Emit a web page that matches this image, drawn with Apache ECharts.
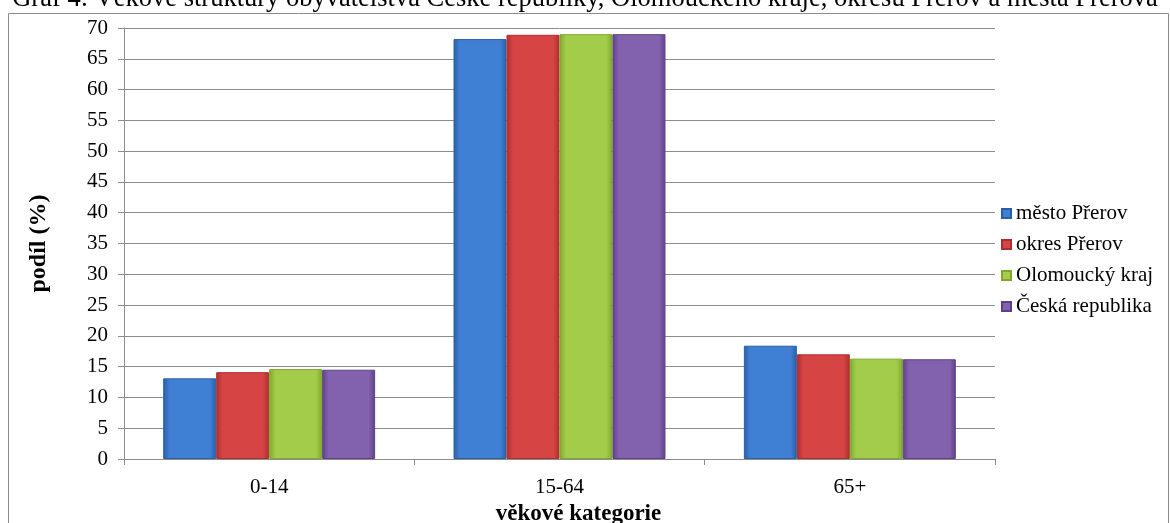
<!DOCTYPE html>
<html><head><meta charset="utf-8">
<script src="https://cdn.jsdelivr.net/npm/echarts@6/dist/echarts.min.js"></script>
<style>html,body{margin:0;padding:0;background:#fff}#c{width:1170px;height:523px}</style>
</head><body><div id="c"></div>
<script>
const categories = ['0-14', '15-64', '65+'];
const seriesNames = ['město Přerov', 'okres Přerov', 'Olomoucký kraj', 'Česká republika'];
const mestoPrerov = [13.1, 68.2, 18.4];
const okresPrerov = [14.1, 68.9, 17.0];
const olomouckyKraj = [14.6, 69.0, 16.3];
const ceskaRepublika = [14.5, 69.0, 16.2];
const yTicks = [0, 5, 10, 15, 20, 25, 30, 35, 40, 45, 50, 55, 60, 65, 70];
const titleText = 'Graf 4: Věkové struktury obyvatelstva České republiky, Olomouckého kraje, okresu Přerov a města Přerova';

const values = [mestoPrerov, okresPrerov, olomouckyKraj, ceskaRepublika];
const palette = [
  ['#2a5ea6', '#4080d4', '#2a5ea6'],
  ['#ad2e2e', '#d64444', '#ad2e2e'],
  ['#7ea82c', '#a2cc4a', '#7ea82c'],
  ['#5e4088', '#8262ae', '#5e4088']
];
const font = '"Liberation Serif", "Times New Roman", serif';

const chart = echarts.init(document.getElementById('c'));
chart.setOption({
  animation: false,
  textStyle: { fontFamily: font },
  graphic: [{
    type: 'rect', shape: { x: 8.5, y: 13.5, width: 1160, height: 520 },
    style: { fill: 'none', stroke: '#8c8c8c', lineWidth: 1 }, silent: true
  }],
  title: {
    text: titleText, left: 'center', top: -19,
    textStyle: { fontFamily: font, fontSize: 26.5, fontWeight: 'normal', color: '#000' }
  },
  legend: {
    orient: 'vertical', left: 996, top: 198, itemGap: 10,
    itemWidth: 9, itemHeight: 9, icon: 'rect',
    textStyle: { fontFamily: font, fontSize: 21, color: '#000' },
    data: seriesNames
  },
  grid: { left: 124, right: 175, top: 28, bottom: 64, containLabel: false, outerBoundsMode: 'none' },
  xAxis: {
    type: 'category', data: categories,
    name: 'věkové kategorie', nameLocation: 'middle', nameGap: 43,
    nameTextStyle: { fontFamily: font, fontSize: 23, fontWeight: 'bold', color: '#000', padding: [0, 0, 0, 38] },
    axisLine: { lineStyle: { color: '#8c8c8c' } },
    axisTick: { show: true, length: 6, lineStyle: { color: '#8c8c8c' } },
    axisLabel: { fontFamily: font, fontSize: 21, color: '#000', margin: 18 }
  },
  yAxis: {
    type: 'value', min: 0, max: 70, interval: 5,
    name: 'podíl (%)', nameLocation: 'middle', nameGap: 73, nameRotate: 90,
    nameTextStyle: { fontFamily: font, fontSize: 24, fontWeight: 'bold', color: '#000' },
    axisLine: { show: true, lineStyle: { color: '#8c8c8c' } },
    axisTick: { show: true, length: 6, lineStyle: { color: '#8c8c8c' } },
    axisLabel: { fontFamily: font, fontSize: 21, color: '#000', margin: 16,
      formatter: v => yTicks.includes(v) ? String(v) : '' },
    splitLine: { lineStyle: { color: '#8c8c8c' } }
  },
  series: seriesNames.map((n, i) => ({
    name: n, type: 'bar', data: values[i],
    barGap: '0%', barCategoryGap: '27%',
    itemStyle: {
      color: {
        type: 'linear', x: 0, y: 0, x2: 1, y2: 0,
        colorStops: [
          { offset: 0, color: palette[i][0] },
          { offset: 0.12, color: palette[i][1] },
          { offset: 0.88, color: palette[i][1] },
          { offset: 1, color: palette[i][2] }
        ]
      },
      borderColor: palette[i][0], borderWidth: 1
    }
  }))
});
</script></body></html>
